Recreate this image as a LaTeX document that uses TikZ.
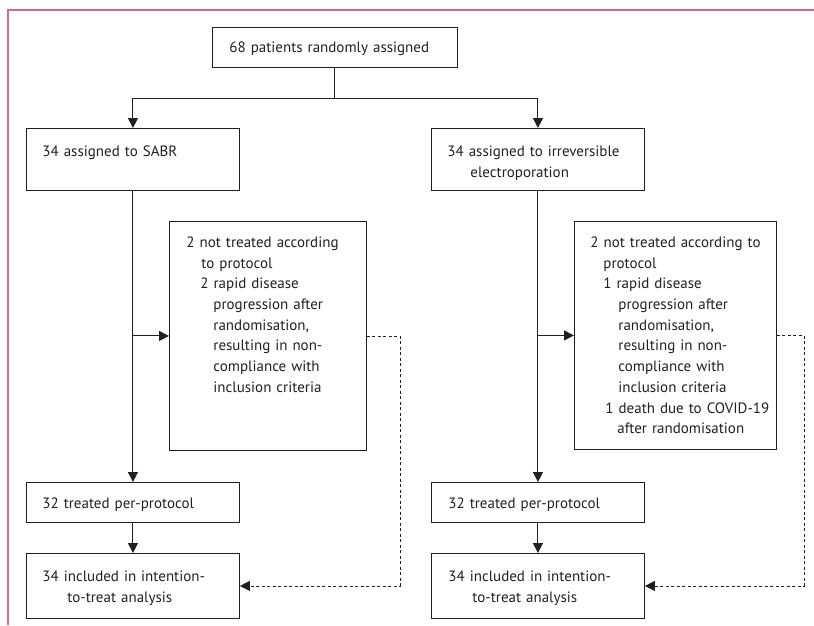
\documentclass[tikz,border=0pt]{standalone}
\usepackage{fontspec}
\setmainfont{PT Sans}
\usepackage{xcolor}
\usepackage{tikz}
\usetikzlibrary{arrows.meta, positioning, calc}
\definecolor{framepink}{RGB}{214, 104, 138}
\definecolor{inkgray}{RGB}{35, 31, 32}
\newcommand{\indt}[1]{\hspace*{#1pt}}

\begin{document}
\begin{tikzpicture}[
    x=1pt, y=-1pt,
    box/.style={rectangle, draw=inkgray, line width=0.9pt, anchor=north west, inner sep=0pt, align=left, text=inkgray, font=\fontsize{15}{20.7}\selectfont},
    link/.style={draw=inkgray, line width=1pt, -{Triangle[length=10pt, width=10pt]}},
    dashlink/.style={link, line width=0.8pt, dash pattern=on 3pt off 2.5pt}
]
\useasboundingbox (0,0) rectangle (814,625);

% Frame
\draw[framepink, line width=1.5pt] (8,625) -- (8,10) -- (814,10);

% Randomisation
\node[box, text width=245pt, text height=25pt, text depth=15pt] (rand) at (212,27) {\indt{17}68 patients randomly assigned};

% Arms
\node[box, text width=213pt, text height=28pt, text depth=34pt] (sabr) at (26,128) {\indt{16}34 assigned to SABR};
\node[box, text width=213pt, text height=28pt, text depth=34pt] (ire) at (431,128) {\indt{16}34 assigned to irreversible\\\indt{39}electroporation};

% Not treated according to protocol
\node[box, text width=197pt, text height=26pt, text depth=203pt] (exclsabr) at (169,221) {\indt{17}2 not treated according\\\indt{32}to protocol\\\indt{31}2 rapid disease\\\indt{44}progression after\\\indt{44}randomisation,\\\indt{44}resulting in non-\\\indt{44}compliance with\\\indt{44}inclusion criteria};
\node[box, text width=202pt, text height=26pt, text depth=202pt] (exclire) at (574,221) {\indt{16}2 not treated according to\\\indt{29}protocol\\\indt{29}1 rapid disease\\\indt{44}progression after\\\indt{44}randomisation,\\\indt{44}resulting in non-\\\indt{44}compliance with\\\indt{44}inclusion criteria\\\indt{31}1 death due to COVID-19\\\indt{43}after randomisation};

% Per-protocol
\node[box, text width=213pt, text height=26pt, text depth=14pt] (ppsabr) at (26,482) {\indt{16}32 treated per-protocol};
\node[box, text width=213pt, text height=26pt, text depth=14pt] (ppire) at (431,482) {\indt{17}32 treated per-protocol};

% Intention-to-treat
\node[box, text width=213pt, text height=28pt, text depth=37pt] (ittsabr) at (26,553) {\indt{16}34 included in intention-\\\indt{41}to-treat analysis};
\node[box, text width=213pt, text height=28pt, text depth=37pt] (ittire) at (431,553) {\indt{17}34 included in intention-\\\indt{41}to-treat analysis};

% Connections
\draw[draw=inkgray, line width=1pt] (rand.south) -- ++(0,31) coordinate (split);
\draw[link] (split) -| (sabr.north);
\draw[link] (split) -| (ire.north);
\draw[link] (sabr.south) -- (ppsabr.north);
\draw[link] (ire.south) -- (ppire.north);
\draw[link] (sabr.south |- exclsabr.west) -- (exclsabr.west);
\draw[link] (ire.south |- exclire.west) -- (exclire.west);
\draw[link] (ppsabr.south) -- (ittsabr.north);
\draw[link] (ppire.south) -- (ittire.north);
\draw[dashlink] (exclsabr.east) -- ++(33,0) |- (ittsabr.east);
\draw[dashlink] (exclire.east) -- ++(27,0) |- (ittire.east);
\end{tikzpicture}
\end{document}
